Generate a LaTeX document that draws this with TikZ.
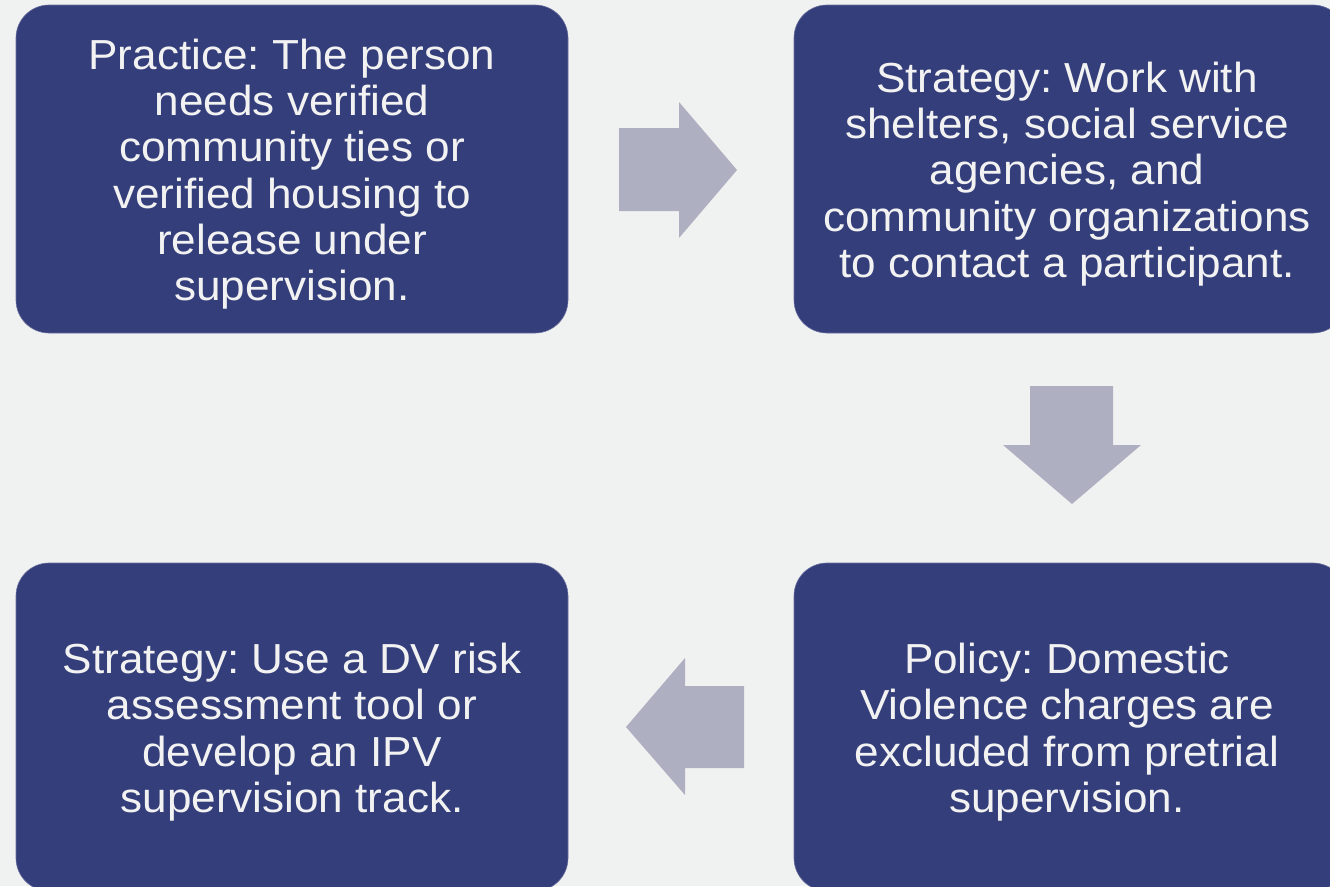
\documentclass[tikz,border=0pt]{standalone}
\usepackage{fontspec}
\setmainfont[FakeStretch=1.05]{Liberation Sans}
\definecolor{bg}{HTML}{F0F2F1}
\definecolor{boxc}{HTML}{343E7A}
\definecolor{boxedge}{HTML}{6A6F9E}
\definecolor{arrowc}{HTML}{AEB0C1}
\definecolor{txt}{HTML}{F2F2F2}
\tikzset{
  stepbox/.style={rectangle, rounded corners=33pt, fill=boxc, draw=boxedge, line width=0.6pt,
    minimum width=552pt, minimum height=328pt, inner sep=0pt},
  steptext/.style={inner sep=0pt, align=center, text=txt,
    font=\frenchspacing\fontsize{42}{46.3}\selectfont},
  blockarrow/.style={fill=arrowc, draw=none}
}
\begin{document}
\begin{tikzpicture}[x=1pt,y=-1pt]
\useasboundingbox (0,0) rectangle (1330,886);
\fill[bg] (0,0) rectangle (1330,886);
\clip (0,0) rectangle (1330,886);
\node[stepbox] (p1) at (292,169) {};
\node[stepbox] (p2) at (1070,169) {};
\node[stepbox] (p4) at (1070,727) {};
\node[stepbox] (p3) at (292,727) {};
\node[steptext] (t1) at ([yshift=-5pt]p1.center) {Practice: The person\\needs verified\\community ties or\\verified housing to\\release under\\supervision.};
\node[steptext] (t2) at ([xshift=-3pt,yshift=-5pt]p2.center) {Strategy: Work with\\shelters, social service\\agencies, and\\community organizations\\to contact a participant.};
\node[steptext] (t4) at ([xshift=-3pt,yshift=-5pt]p4.center) {Policy: Domestic\\Violence charges are\\excluded from pretrial\\supervision.};
\node[steptext] (t3) at ([yshift=-5pt]p3.center) {Strategy: Use a DV risk\\assessment tool or\\develop an IPV\\supervision track.};
% right arrow
\fill[blockarrow] (619,128) -- (679,128) -- (679,102) -- (737,170) -- (679,238) -- (679,211) -- (619,211) -- cycle;
% down arrow
\fill[blockarrow] (1030,386) -- (1113,386) -- (1113,445) -- (1141,445) -- (1072,504) -- (1003,445) -- (1030,445) -- cycle;
% left arrow
\fill[blockarrow] (744,686) -- (685,686) -- (685,658) -- (626,727) -- (685,795) -- (685,768) -- (744,768) -- cycle;
\end{tikzpicture}
\end{document}
